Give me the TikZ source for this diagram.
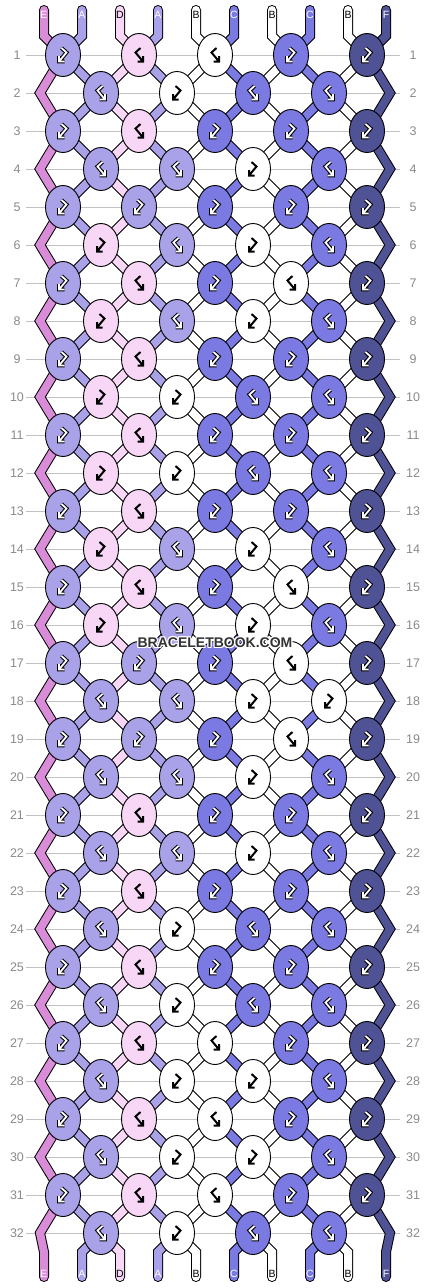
\documentclass[tikz,border=0pt]{standalone}
\usepackage{fontspec}
\setmainfont{Liberation Sans}
\usetikzlibrary{shapes.geometric}

\definecolor{strE}{HTML}{D98CD8}
\definecolor{strA}{HTML}{AAA2E8}
\definecolor{strD}{HTML}{F7D7F5}
\definecolor{strB}{HTML}{FFFFFF}
\definecolor{strC}{HTML}{7A7AE2}
\definecolor{strF}{HTML}{505296}
\definecolor{rowgray}{HTML}{C2C2C2}
\definecolor{numgray}{HTML}{8A8A8A}
\definecolor{markgray}{HTML}{333333}

% left string of knot c, odd and even rows
\newcommand{\leftodd}[1]{\ifcase#1\or E\or D\or B\or B\or B\fi}
\newcommand{\lefteven}[1]{\ifcase#1\or A\or A\or C\or C\fi}

\begin{document}
\begin{tikzpicture}[x=1pt,y=-1pt,
  knot/.style={ellipse, draw=black, line width=0.9pt, minimum width=35pt, minimum height=43pt, inner sep=0pt},
  strand/.style={draw=black, line width=1pt, double=#1, double distance=8pt, line cap=round},
  rowline/.style={draw=rowgray, line width=0.9pt},
  rownum/.style={text=numgray, font=\fontsize{12.5}{12.5}\selectfont, inner sep=0pt},
  endlabel/.style={font=\fontsize{10.5}{10.5}\selectfont, inner sep=0pt},
  wmark/.style={font=\fontsize{14}{14}\selectfont\bfseries, inner sep=0pt},
  glyphdark/.style={draw=white, line width=1.8pt, preaction={draw=black, line width=3.9pt}},
  glyphlight/.style={draw=black, line width=2pt},
  glyphA/.style={glyphdark}, glyphC/.style={glyphdark}, glyphF/.style={glyphdark},
  glyphD/.style={glyphlight}, glyphB/.style={glyphlight},
  pics/turn/.style 2 args={code={
    \draw[xscale=#1, #2] (1.5,-7) -- (-3.5,-2.5) -- (4,6.5) (-1.5,6.5) -- (4,6.5) -- (4,1);
  }}]

\useasboundingbox (0,0) rectangle (430,1288);
\fill[white] (0,0) rectangle (430,1288);

% Row rulings and numbers
\foreach \r in {1,...,32}{
  \pgfmathsetmacro\ky{55+38*(\r-1)}
  \draw[rowline] (26,\ky) -- (400,\ky);
  \node[rownum] (ln-\r) at (17,\ky) {\r};
  \node[rownum] (rn-\r) at (413,\ky) {\r};
}

% Knot positions (even rows also get the two edge turns)
\foreach \r in {1,...,32}{
  \pgfmathsetmacro\ky{55+38*(\r-1)}
  \ifodd\r\relax
    \foreach \c in {1,...,5} \coordinate (k-\r-\c) at ({63+76*(\c-1)},\ky);
  \else
    \foreach \c in {1,...,4} \coordinate (k-\r-\c) at ({101+76*(\c-1)},\ky);
    \coordinate (k-\r-0) at (40,\ky);
    \coordinate (k-\r-5) at (390,\ky);
  \fi
}

% Strings
\foreach \i/\s in {1/E,2/A,3/D,4/A,5/B,6/C,7/B,8/C,9/B,10/F}{
  \pgfmathsetmacro\sx{44+38*(\i-1)}
  \draw[strand=str\s] (\sx,10) -- (\sx,36)
    \foreach \r [evaluate=\r as \n using {int(floor(\i/2)+mod(\r,2)*mod(\i,2))}] in {1,...,32}{ -- (k-\r-\n) }
    -- (\sx,1252) -- (\sx,1277);
}

% Knots
\foreach \r/\cols in {1/{A,D,B,C,F},2/{A,B,C,C},3/{A,D,C,C,F},4/{A,A,B,C},
  5/{A,A,C,C,F},6/{D,A,B,C},7/{A,D,C,B,F},8/{D,A,B,C},9/{A,D,C,C,F},10/{D,B,C,C},
  11/{A,D,C,C,F},12/{D,B,C,C},13/{A,D,C,C,F},14/{D,A,B,C},15/{A,D,C,B,F},16/{D,A,B,C},
  17/{A,A,C,B,F},18/{A,A,B,B},19/{A,A,C,B,F},20/{A,A,B,C},21/{A,D,C,C,F},22/{A,A,B,C},
  23/{A,D,C,C,F},24/{A,B,C,C},25/{A,D,C,C,F},26/{A,B,C,C},27/{A,D,B,C,F},28/{A,B,B,C},
  29/{A,D,B,C,F},30/{A,B,B,C},31/{A,D,B,C,F},32/{A,B,C,C}}{
  \foreach \col [count=\c] in \cols {
    \edef\kc{\col}
    \ifodd\r\relax \edef\lc{\leftodd{\c}}\else \edef\lc{\lefteven{\c}}\fi
    \ifx\kc\lc \def\dir{1}\else \def\dir{-1}\fi
    \node[knot, fill=str\col] (n-\r-\c) at (k-\r-\c) {};
    \pic at (n-\r-\c) {turn={\dir}{glyph\col}};
  }
}

% String letters
\foreach \i/\s/\tc in {1/E/white,2/A/white,3/D/black,4/A/white,5/B/black,
  6/C/white,7/B/black,8/C/white,9/B/black,10/F/white}{
  \node[endlabel, text=\tc] (top-\i) at ({44+38*(\i-1)},15) {\s};
  \node[endlabel, text=\tc] (bot-\i) at ({44+38*(\i-1)},1274) {\s};
}

% Watermark
\foreach \dx/\dy in {-1/0,1/0,0/-1,0/1,-1/-1,1/1,-1/1,1/-1}
  \node[wmark, text=white] at (215+\dx,643+\dy) {BRACELETBOOK.COM};
\node[wmark, text=markgray] (mark) at (215,643) {BRACELETBOOK.COM};

\end{tikzpicture}
\end{document}
